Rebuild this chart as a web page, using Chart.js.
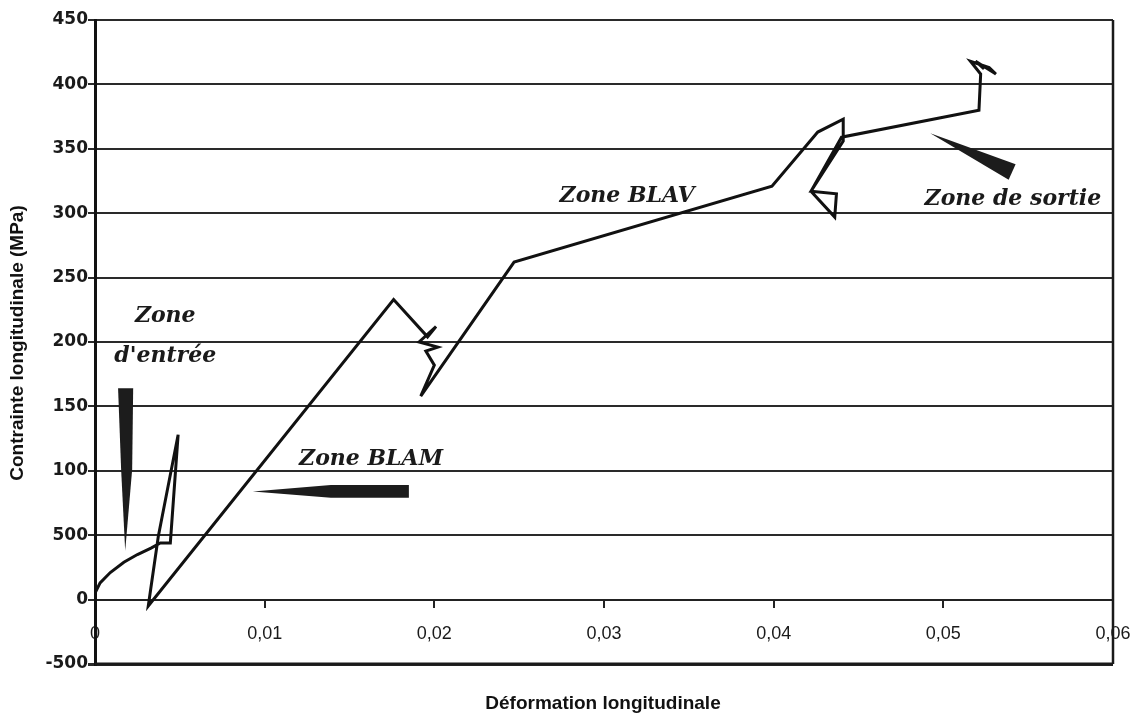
<!DOCTYPE html>
<html>
<head>
<meta charset="utf-8">
<script src="https://cdn.jsdelivr.net/npm/chart.js@4/dist/chart.umd.min.js"></script>
<style>
  html, body { margin: 0; padding: 0; background: #ffffff; }
  canvas { display: block; }
</style>
</head>
<body>
<canvas id="c" width="1138" height="720"></canvas>
<script>
// ---- Data ----
const strain = [
  0.0000, 0.0003, 0.0009, 0.0017, 0.0025, 0.0033, 0.00385, 0.00444, 0.00485, 0.0049, 0.00373, 0.00314,
  0.0176, 0.0196, 0.0201, 0.0191, 0.0202, 0.0195, 0.0200, 0.0192,
  0.0247, 0.0399, 0.0426, 0.0441, 0.0441, 0.0422, 0.0437, 0.0436, 0.0422, 0.0440,
  0.0521, 0.0522, 0.0516, 0.0527, 0.0531, 0.0519, 0.0524
];
const stress = [
  5, 13, 21, 29, 35, 40, 44, 44, 119, 128, 49, -5,
  233, 204, 212, 200, 196, 193, 182, 158,
  262, 321, 363, 373, 356, 317, 315, 297, 317, 359,
  380, 408, 418, 413, 408, 418, 412
];
const yTickValues = [-50, 0, 50, 100, 150, 200, 250, 300, 350, 400, 450];
const yTickLabels = ["-500", "0", "500", "100", "150", "200", "250", "300", "350", "400", "450"];
const xTickValues = [0, 0.01, 0.02, 0.03, 0.04, 0.05, 0.06];
const xTickLabels = ["0", "0,01", "0,02", "0,03", "0,04", "0,05", "0,06"];
const xTitle = "Déformation longitudinale";
const yTitle = "Contrainte longitudinale (MPa)";
const zoneLabels = [
  { text: "Zone", x: 0.00414, y: 220 },
  { text: "d'entrée", x: 0.00414, y: 189 },
  { text: "Zone BLAM", x: 0.01627, y: 109 },
  { text: "Zone BLAV", x: 0.03136, y: 313 },
  { text: "Zone de sortie", x: 0.0541, y: 311 }
];
// Arrow wedges (data units)
const arrowEntry = [[0.00136, 164], [0.00225, 164], [0.00219, 101], [0.00178, 38], [0.00154, 101]];
const arrowBlam = [[0.0185, 89], [0.0185, 79], [0.0139, 79], [0.0093, 84], [0.0139, 89]];
const arrowSortie = [[0.04923, 362], [0.05426, 338], [0.05385, 326]];

const points = strain.map((x, i) => ({ x: x, y: stress[i] }));

const annotPlugin = {
  id: 'annot',
  afterDatasetsDraw(chart) {
    const ctx = chart.ctx;
    const xs = chart.scales.x, ys = chart.scales.y;
    const a = chart.chartArea;
    ctx.save();
    // frame
    ctx.strokeStyle = '#1a1a1a';
    ctx.lineWidth = 2.5;
    ctx.beginPath();
    ctx.moveTo(a.right, a.top);
    ctx.lineTo(a.right, a.bottom);
    ctx.stroke();
    ctx.lineWidth = 3;
    ctx.beginPath();
    ctx.moveTo(a.left, a.bottom);
    ctx.lineTo(a.right, a.bottom);
    ctx.stroke();
    // arrows
    ctx.fillStyle = '#1c1c1c';
    [arrowEntry, arrowBlam, arrowSortie].forEach(poly => {
      ctx.beginPath();
      poly.forEach((p, i) => {
        const px = xs.getPixelForValue(p[0]), py = ys.getPixelForValue(p[1]);
        if (i === 0) ctx.moveTo(px, py); else ctx.lineTo(px, py);
      });
      ctx.closePath();
      ctx.fill();
    });
    // zone labels
    ctx.fillStyle = '#1a1a1a';
    ctx.font = 'italic bold 22px "DejaVu Serif", "Liberation Serif", serif';
    ctx.textAlign = 'center';
    ctx.textBaseline = 'middle';
    zoneLabels.forEach(l => {
      ctx.fillText(l.text, xs.getPixelForValue(l.x), ys.getPixelForValue(l.y));
    });
    // axis titles
    ctx.font = 'bold 19px "Liberation Sans Narrow", "Liberation Sans", sans-serif';
    ctx.fillStyle = '#111';
    ctx.fillText(xTitle, 603, 704);
    ctx.translate(18, 343);
    ctx.rotate(-Math.PI / 2);
    ctx.fillText(yTitle, 0, 0);
    ctx.restore();
  }
};

new Chart(document.getElementById('c'), {
  type: 'scatter',
  data: {
    datasets: [{
      data: points,
      showLine: true,
      borderColor: '#111111',
      borderWidth: 3,
      pointRadius: 0,
      pointHoverRadius: 0,
      tension: 0,
      fill: false
    }]
  },
  options: {
    responsive: false,
    animation: false,
    devicePixelRatio: 1,
    layout: { padding: { left: 0, top: 20, right: 25, bottom: 56 } },
    plugins: { legend: { display: false }, tooltip: { enabled: false } },
    scales: {
      x: {
        type: 'linear',
        position: { y: 0 },
        min: 0, max: 0.06,
        afterBuildTicks(scale) { scale.ticks = xTickValues.map(v => ({ value: v })); },
        afterFit(scale) { scale.paddingLeft = 0; scale.paddingRight = 0; },
        ticks: {
          callback: (v, i) => xTickLabels[i],
          font: { family: '"Liberation Sans", Arial, sans-serif', size: 18 },
          color: '#1a1a1a',
          padding: 17,
          maxRotation: 0,
          autoSkip: false
        },
        grid: { drawOnChartArea: false, drawTicks: true, tickLength: 7, color: '#222', lineWidth: 2 },
        border: { display: true, color: '#222', width: 2 }
      },
      y: {
        type: 'linear',
        min: -50, max: 450,
        afterBuildTicks(scale) { scale.ticks = yTickValues.map(v => ({ value: v })); },
        afterFit(scale) { scale.width = 95; },
        ticks: {
          callback: (v, i) => yTickLabels[i],
          font: { family: '"DejaVu Sans", sans-serif', size: 17, weight: 'bold' },
          color: '#1a1a1a',
          padding: 0,
          autoSkip: false
        },
        grid: {
          color: '#2a2a2a',
          lineWidth: c => (c.tick && c.tick.value === -50) ? 3 : 2,
          tickLength: 7
        },
        border: { display: true, color: '#111', width: 3 }
      }
    }
  },
  plugins: [annotPlugin]
});
</script>
</body>
</html>
